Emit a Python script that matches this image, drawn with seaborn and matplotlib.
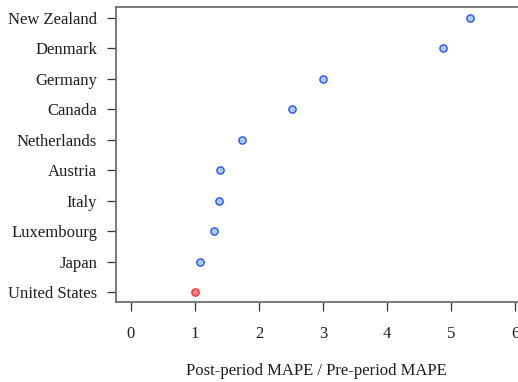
import matplotlib
matplotlib.use("Agg")
import matplotlib.pyplot as plt
import seaborn as sns
import pandas as pd

# Countries listed top to bottom, with their error ratio
countries = ["New Zealand", "Denmark", "Germany", "Canada", "Netherlands",
             "Austria", "Italy", "Luxembourg", "Japan", "United States"]
ratios = [5.30, 4.88, 3.00, 2.51, 1.73, 1.39, 1.37, 1.29, 1.08, 1.00]
highlight = "United States"
x_ticks = [0, 1, 2, 3, 4, 5, 6]
x_label = "Post-period MAPE / Pre-period MAPE"

df = pd.DataFrame({"country": countries, "ratio": ratios})
df["treated"] = df["country"] == highlight

sns.set_theme(style="white")
plt.rcParams["font.family"] = ["Liberation Serif", "DejaVu Serif"]
text_color = "#1e1e1e"

fig = plt.figure(figsize=(5.18, 3.82), dpi=100)
ax = fig.add_axes([116 / 518, 1 - 302 / 382, (517 - 116) / 518, (302 - 6.7) / 382])

sns.stripplot(data=df[~df["treated"]], x="ratio", y="country", order=countries,
              orient="h", jitter=False, color="#a3cff0", edgecolor="#2f4dff",
              linewidth=1.0, size=5.2, ax=ax, zorder=3)
sns.stripplot(data=df[df["treated"]], x="ratio", y="country", order=countries,
              orient="h", jitter=False, color="#ff8585", edgecolor="#ff3030",
              linewidth=1.0, size=5.2, ax=ax, zorder=3)

ax.set_xlim(-0.234, 6.03)
ax.set_ylim(9.33, -0.37)
ax.set_xticks(x_ticks)
ax.set_xticklabels([str(t) for t in x_ticks])
ax.set_xlabel(x_label, fontsize=12, color=text_color, labelpad=15)
ax.set_ylabel("")

for side in ["left", "top", "bottom"]:
    ax.spines[side].set_visible(True)
    ax.spines[side].set_color("#6e6e6e")
    ax.spines[side].set_linewidth(1.3)
ax.spines["right"].set_visible(False)

ax.tick_params(axis="both", which="major", direction="out", length=6.5, width=0.9,
               color="#333333", labelcolor=text_color, labelsize=12,
               left=True, bottom=True)
ax.tick_params(axis="y", pad=7)
ax.tick_params(axis="x", pad=11)

fig.savefig("out.png", dpi=100)
